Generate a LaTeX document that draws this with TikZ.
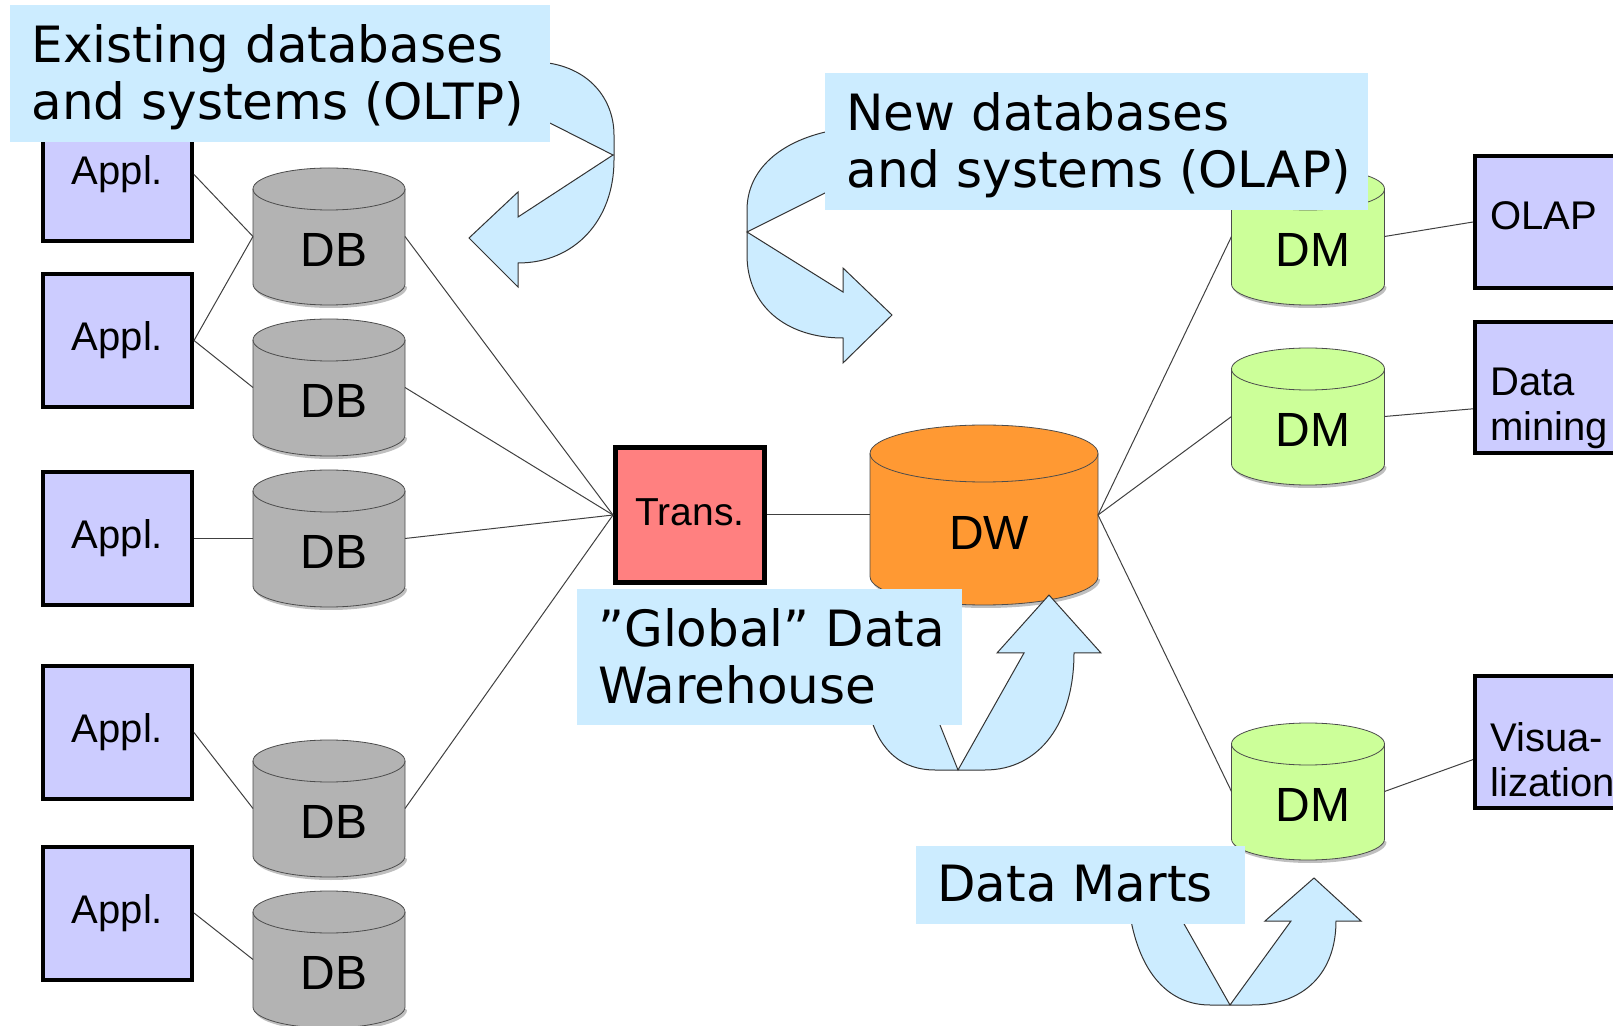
\documentclass[tikz,border=0pt]{standalone}
\usepackage{fontspec}
\setmainfont{Liberation Sans}
\newfontfamily\notefont{DejaVu Sans}

\definecolor{applblue}{RGB}{204,204,255}
\definecolor{dbgray}{RGB}{179,179,179}
\definecolor{dmgreen}{RGB}{204,255,153}
\definecolor{dworange}{RGB}{255,153,51}
\definecolor{transred}{RGB}{255,128,128}
\definecolor{noteblue}{RGB}{204,236,255}

\tikzset{
    appl/.style={draw, line width=2pt, fill=applblue, minimum width=74.5pt, minimum height=66.5pt, inner sep=0pt, font=\fontsize{20}{24}\selectfont},
    trans/.style={draw, line width=2.5pt, fill=transred, minimum width=74.5pt, minimum height=67.5pt, inner sep=0pt, font=\fontsize{19.5}{23}\selectfont},
    tool/.style={draw, line width=2pt, fill=applblue, minimum width=84pt, anchor=north west},
    tooltext/.style={anchor=north west, align=left, inner sep=0pt, font=\fontsize{20}{22.5}\selectfont},
    cyltext/.style={inner sep=0pt, font=\fontsize{24}{28}\selectfont},
    link/.style={draw=black!75, line width=0.5pt},
    bigarrow/.style={fill=noteblue, draw=black!80, line width=0.5pt},
    notetext/.style={anchor=north west, align=left, inner sep=0pt, font=\notefont\fontsize{25}{28.5}\selectfont},
}

\newcommand{\cylinder}[8][dbgray]{
    % #2 x, #3 top, #4 width, #5 height, #6 ellipse radius, #7 name, #8 text
    \fill[black!25, xshift=1pt, yshift=-1.5pt] (#2-#4/2, #3+#6) -- ++(0, #5-2*#6) arc (180:0:#4/2 and #6) -- cycle;
    \draw[fill=#1, draw=black!70] (#2-#4/2, #3+#6) -- ++(0, #5-2*#6) arc (180:0:#4/2 and #6) -- (#2+#4/2, #3+#6) arc (0:-180:#4/2 and #6) -- cycle;
    \draw[black!70] (#2-#4/2, #3+#6) arc (180:0:#4/2 and #6);
    \coordinate (#7-w) at (#2-#4/2, #3+#5/2);
    \coordinate (#7-e) at (#2+#4/2, #3+#5/2);
    \node[cyltext] (#7) at (#2+5, #3+0.6*#5) {#8};
}

\newcommand{\callout}[6]{
    % #1,#2 top left, #3,#4 bottom right, #5 name, #6 text
    \fill[noteblue] (#1,#2) rectangle (#3,#4);
    \node[notetext] (#5) at (#1+21, #2+19) {#6};
}

\begin{document}
\begin{tikzpicture}[x=0.5pt, y=-0.5pt]
    \useasboundingbox (0,0) rectangle (1613,1026);

    % operational side
    \node[appl] (a1) at (117.5,174.5) {Appl.};
    \node[appl] (a2) at (117.5,340.5) {Appl.};
    \node[appl] (a3) at (117.5,538.5) {Appl.};
    \node[appl] (a4) at (117.5,732.5) {Appl.};
    \node[appl] (a5) at (117.5,913) {Appl.};

    \cylinder{329}{168}{152}{137}{21}{db1}{DB};
    \cylinder{329}{319}{152}{137}{21}{db2}{DB};
    \cylinder{329}{470}{152}{137}{21}{db3}{DB};
    \cylinder{329}{740}{152}{137}{21}{db4}{DB};
    \cylinder{329}{891}{152}{137}{21}{db5}{DB};

    % warehouse
    \node[trans] (trans) at (690,515) {\raisebox{2.5pt}{Trans.}};
    \cylinder[dworange]{984}{425}{228}{180}{28.5}{dw}{DW};

    % marts and tools
    \cylinder[dmgreen]{1308}{168}{153}{137}{21}{dm1}{DM};
    \cylinder[dmgreen]{1308}{348}{153}{137}{21}{dm2}{DM};
    \cylinder[dmgreen]{1308}{723}{153}{137}{21}{dm3}{DM};

    \node[tool, minimum height=66pt] (olap) at (1473,154) {};
    \node[tooltext] (olaptext) at (1490,201) {OLAP};
    \node[tool, minimum height=65.5pt] (mining) at (1473,320) {};
    \node[tooltext] (miningtext) at (1490,368) {Data\\mining};
    \node[tool, minimum height=66pt] (visual) at (1473,674) {};
    \node[tooltext] (visualtext) at (1490,722) {Visua-\\lization};

    % connectors
    \foreach \src/\dst in {a1/db1, a2/db1, a2/db2, a3/db3, a4/db4, a5/db5}
        \draw[link] (\src.east) -- (\dst-w);
    \foreach \src in {db1, db2, db3, db4}
        \draw[link] (\src-e) -- (trans.west);
    \draw[link] (trans.east) -- (dw-w);
    \foreach \dst in {dm1, dm2, dm3}
        \draw[link] (dw-e) -- (\dst-w);
    \draw[link] (dm1-e) -- (olap.west);
    \draw[link] (dm2-e) -- (mining.west |- miningtext);
    \draw[link] (dm3-e) -- (visual.west |- visualtext);

    % curved arrows
    \draw[bigarrow] (540,62) .. controls (590,66) and (614,100) .. (614,135) -- (614,160)
        .. controls (614,220) and (575,263) .. (518,263) -- (518,287) -- (469,238) -- (518,192)
        -- (518,217) -- (613,155) -- (540,118) -- cycle;
    \draw[bigarrow] (835,130) .. controls (780,140) and (747,170) .. (747,210) -- (747,255)
        .. controls (747,305) and (785,338) .. (843,338) -- (843,363) -- (892,315) -- (843,268)
        -- (843,292) -- (747,232) -- (835,188) -- cycle;
    \draw[bigarrow] (870,715) .. controls (880,752) and (903,770) .. (935,770) -- (985,770)
        .. controls (1040,770) and (1074,722) .. (1074,653) -- (1101,653) -- (1049,595) -- (997,653)
        -- (1024,653) -- (958,770) -- (936,715) -- cycle;
    \draw[bigarrow] (1130,915) .. controls (1140,975) and (1170,1005) .. (1210,1005) -- (1252,1005)
        .. controls (1305,1005) and (1336,972) .. (1336,921) -- (1361,921) -- (1314,878) -- (1265,921)
        -- (1291,921) -- (1230,1005) -- (1179,915) -- cycle;

    % labels
    \callout{10}{5}{550}{142}{oltp}{Existing databases\\and systems (OLTP)};
    \callout{825}{73}{1368}{210}{olapnote}{New databases\\and systems (OLAP)};
    \callout{577}{589}{962}{725}{dwnote}{”Global” Data\\Warehouse};
    \callout{916}{846}{1245}{924}{marts}{Data Marts};
\end{tikzpicture}
\end{document}
